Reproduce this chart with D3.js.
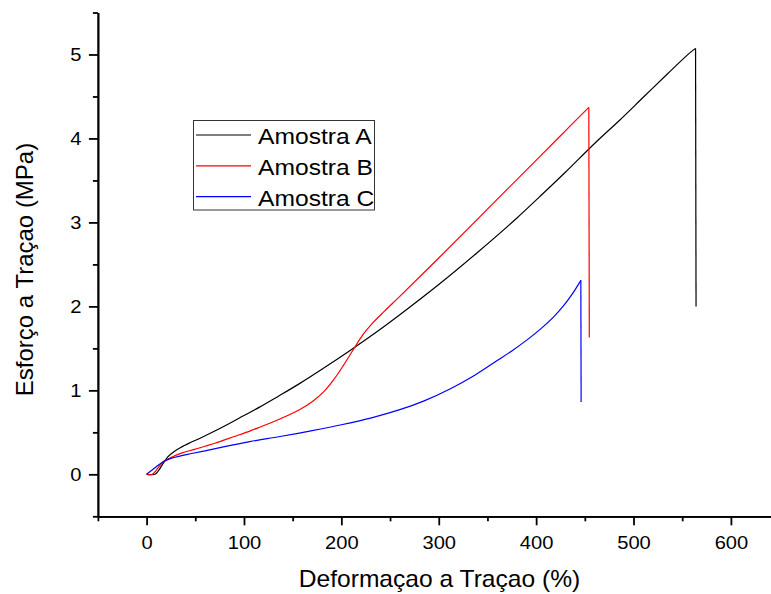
<!DOCTYPE html>
<html><head><meta charset="utf-8">
<script src="https://cdn.jsdelivr.net/npm/d3@7"></script>
<style>html,body{margin:0;padding:0;background:#fff;}svg{display:block;}</style>
</head><body>
<script>
const xMajorTicks = [0,100,200,300,400,500,600];
const xMinorTicks = [-50,50,150,250,350,450,550,650];
const yMajorTicks = [0,1,2,3,4,5];
const yMinorTicks = [-0.5,0.5,1.5,2.5,3.5,4.5,5.5];
const seriesNames = ["Amostra A","Amostra B","Amostra C"];
const xTitle = "Deformaçao a Traçao (%)";
const yTitle = "Esforço a Traçao (MPa)";

// [strain %, stress MPa]; the last point of each series is the rupture drop
const amostraA = [[0,0],[8.5,0],[12,0.04],[17,0.13],[22,0.21],[28,0.27],[35,0.32],[44.5,0.375],[55,0.43],[70,0.515],[85,0.605],[100,0.70],[116,0.80],[135,0.928],[157,1.08],[180,1.251],[209,1.475],[235,1.685],[260,1.90],[300,2.26],[340,2.645],[380,3.05],[404,3.31],[430,3.597],[460,3.94],[486,4.22],[510,4.49],[535,4.77],[554,4.98],[560,5.04],[563.7,5.07],[564.2,2.0]];
const amostraB = [[0,0],[6,0],[10,0.05],[17,0.15],[25,0.2],[35,0.25],[50,0.30],[70,0.37],[90,0.45],[106,0.515],[116,0.56],[132,0.635],[157,0.77],[170,0.865],[182,0.985],[192,1.125],[202,1.295],[212,1.48],[222,1.66],[232,1.80],[244,1.94],[260,2.12],[300,2.576],[350,3.158],[404,3.787],[430,4.09],[454.1,4.37],[454.6,1.63]];
const amostraC = [[0,0],[5,0.045],[10,0.09],[17,0.15],[25,0.19],[35,0.22],[45,0.245],[60,0.28],[80,0.33],[106,0.39],[116,0.41],[137,0.45],[170,0.52],[200,0.59],[230,0.67],[260,0.77],[285,0.875],[312,1.02],[337,1.18],[360,1.355],[375,1.47],[390,1.595],[405,1.735],[418,1.875],[428,2.005],[437,2.145],[445.9,2.31],[446.2,0.86]];
const seriesData = [amostraA, amostraB, amostraC];
const seriesColors = ["#000000","#ff0000","#0000ff"];

const W = 771, H = 594;
const svg = d3.select("body").append("svg").attr("width", W).attr("height", H)
  .style("font-family", "'Liberation Sans', Arial, sans-serif");

const x = d3.scaleLinear().domain([-50, 650]).range([97.9, 779.6]);
const y = d3.scaleLinear().domain([-0.5, 5.5]).range([516.3, 12.5]);

// curves: smooth body + straight rupture drop
const smooth = d3.line().x(d => x(d[0])).y(d => y(d[1])).curve(d3.curveCatmullRom.alpha(0.5));
const straight = d3.line().x(d => x(d[0])).y(d => y(d[1]));
const gCurves = svg.append("g");
seriesData.forEach((data, i) => {
  gCurves.append("path").attr("d", smooth(data.slice(0, -1))).attr("fill", "none")
    .attr("stroke", seriesColors[i]).attr("stroke-width", 1.2);
  gCurves.append("path").attr("d", straight(data.slice(-2))).attr("fill", "none")
    .attr("stroke", seriesColors[i]).attr("stroke-width", 1.2);
});

// axes
const sx = 1.15;
const xAxisMinor = d3.axisBottom(x).tickValues(xMinorTicks).tickSize(5).tickSizeOuter(0).tickFormat("");
const gxm = svg.append("g").attr("transform", `translate(0,${y(-0.5)})`).call(xAxisMinor);
const xAxis = d3.axisBottom(x).tickValues(xMajorTicks).tickSize(9).tickSizeOuter(0).tickFormat(d3.format("d"));
const gx = svg.append("g").attr("transform", `translate(0,${y(-0.5)})`).call(xAxis);
const yAxisMinor = d3.axisLeft(y).tickValues(yMinorTicks).tickSize(5).tickSizeOuter(0).tickFormat("");
const gym = svg.append("g").attr("transform", `translate(${x(-50)},0)`).call(yAxisMinor);
const yAxis = d3.axisLeft(y).tickValues(yMajorTicks).tickSize(9).tickSizeOuter(0).tickFormat(d3.format("d"));
const gy = svg.append("g").attr("transform", `translate(${x(-50)},0)`).call(yAxis);

[gx, gxm, gy, gym].forEach(g => {
  g.select(".domain").attr("stroke", "#000").attr("stroke-width", 1.8);
  g.selectAll(".tick line").attr("stroke", "#000").attr("stroke-width", 1.8);
});
gx.selectAll(".tick text").attr("font-size", 17.5).attr("fill", "#000")
  .attr("font-family", "'Liberation Sans', Arial, sans-serif")
  .attr("y", null).attr("dy", null).attr("transform", `translate(0,33) scale(${sx},1)`);
gy.selectAll(".tick text").attr("font-size", 17.5).attr("fill", "#000")
  .attr("font-family", "'Liberation Sans', Arial, sans-serif")
  .attr("x", null).attr("dy", "0.36em").attr("transform", `translate(-16.5,0) scale(${sx},1)`);

// axis titles
svg.append("text").text(xTitle).attr("font-size", 23).attr("text-anchor", "middle")
  .attr("transform", `translate(439.5,587) scale(1.07,1)`);
svg.append("text").text(yTitle).attr("font-size", 24).attr("text-anchor", "middle")
  .attr("transform", `translate(33,269.5) rotate(-90)`);

// legend
const leg = svg.append("g");
leg.append("rect").attr("x", 193.5).attr("y", 120.5).attr("width", 181).attr("height", 89.5)
  .attr("fill", "#fff").attr("stroke", "#333").attr("stroke-width", 1);
seriesNames.forEach((name, i) => {
  const ly = 135 + i * 30.8;
  leg.append("line").attr("x1", 196).attr("x2", 251).attr("y1", ly).attr("y2", ly)
    .attr("stroke", seriesColors[i]).attr("stroke-width", 1.2);
  leg.append("text").text(name).attr("font-size", 22)
    .attr("transform", `translate(258,${ly + 9.3}) scale(1.12,1)`);
});
</script>
</body></html>
